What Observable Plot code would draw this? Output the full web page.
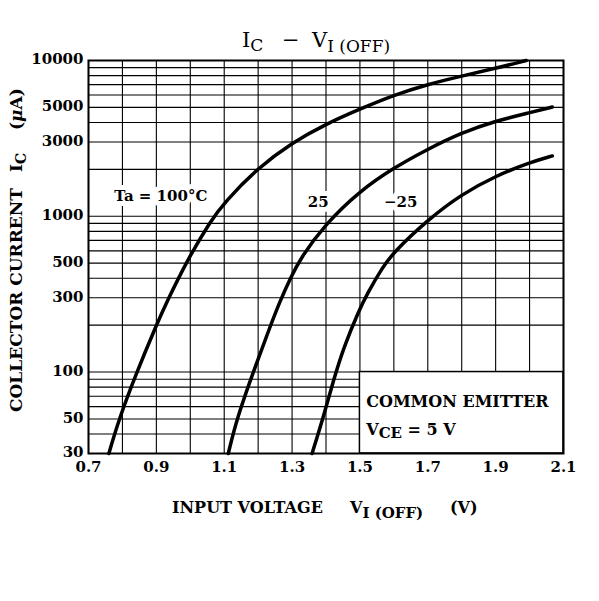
<!DOCTYPE html>
<html>
<head>
<meta charset="utf-8">
<script src="https://cdn.jsdelivr.net/npm/d3@7"></script>
<script src="https://cdn.jsdelivr.net/npm/@observablehq/plot@0.6"></script>
<style>
  body { margin: 0; background: #fff; }
  svg text { white-space: pre; }
</style>
</head>
<body>
<div id="chart"></div>
<script>
// Ta = 100°C
const v100 = [0.76, 0.79, 0.84, 0.90, 0.93, 0.99, 1.06, 1.10, 1.20, 1.30, 1.40, 1.50, 1.60, 1.70, 1.80, 1.90, 1.99]
const ic100 = [30, 50, 97, 200, 280, 518, 935, 1224, 2052, 2970, 3912, 4882, 6000, 7032, 7950, 8905, 10000]
// Ta = 25°C
const v25 = [1.112, 1.138, 1.187, 1.236, 1.266, 1.295, 1.325, 1.398, 1.497, 1.60, 1.70, 1.80, 1.90, 2.00, 2.067]
const ic25 = [30, 51, 102, 198, 290, 400, 540, 890, 1440, 2050, 2700, 3440, 4090, 4626, 5028]
// Ta = -25°C
const vm25 = [1.359, 1.394, 1.423, 1.452, 1.497, 1.521, 1.566, 1.60, 1.70, 1.80, 1.90, 2.00, 2.067]
const icm25 = [30, 53, 90, 144, 248, 317, 469, 590, 950, 1386, 1816, 2212, 2440]

const xTicks = [0.7, 0.9, 1.1, 1.3, 1.5, 1.7, 1.9, 2.1]
const yTicks = [30, 50, 100, 300, 500, 1000, 3000, 5000, 10000]

const taLabels = ['Ta = 100°C', '25', '−25']
const taLabelV = [0.913, 1.377, 1.62]
const taLabelIc = [1350, 1237, 1237]

const series = [
  {ta: '100', v: v100, ic: ic100},
  {ta: '25', v: v25, ic: ic25},
  {ta: '-25', v: vm25, ic: icm25},
]
const curveData = series.flatMap(s => s.v.map((v, i) => ({ta: s.ta, v: v, ic: s.ic[i]})))
const labelData = taLabels.map((t, i) => ({text: t, v: taLabelV[i], ic: taLabelIc[i]}))

// rejilla: 0.1 V y 1..9 por decada
const xGrid = d3.range(7, 22).map(d => d / 10)
const yGrid = [
  ...d3.range(3, 10).map(d => d * 10),
  ...d3.range(1, 10).map(d => d * 100),
  ...d3.range(1, 11).map(d => d * 1000),
]

const font = 'DejaVu Serif'

const chart = Plot.plot({
  width: 599,
  height: 601,
  marginLeft: 88,
  marginRight: 36,
  marginTop: 60,
  marginBottom: 148,
  style: {fontFamily: font, fontSize: '15px', fontWeight: 'bold', color: 'black', background: 'white'},
  x: {domain: [0.7, 2.1], axis: null},
  y: {type: 'log', domain: [30, 10000], axis: null},
  marks: [
    Plot.gridX(xGrid, {stroke: 'black', strokeOpacity: 1, strokeWidth: 1.1}),
    Plot.gridY(yGrid, {stroke: 'black', strokeOpacity: 1, strokeWidth: 1.1}),
    Plot.rect([{x1: 1.5, x2: 2.1, y1: 30, y2: 100}], {
      x1: 'x1', x2: 'x2', y1: 'y1', y2: 'y2', fill: 'white', stroke: 'black', strokeWidth: 1.5
    }),
    Plot.text(labelData, {
      x: 'v', y: 'ic', text: 'text', fill: 'black', stroke: 'white', strokeWidth: 10, fontSize: 15
    }),
    Plot.line(curveData, {
      x: 'v', y: 'ic', z: 'ta', stroke: 'black', strokeWidth: 3.5, curve: 'basis'
    }),
    Plot.frame({stroke: 'black', strokeWidth: 2}),
    Plot.text(yTicks, {y: d => d, text: d => String(d), frameAnchor: 'left', dx: -5, dy: -1, textAnchor: 'end', fontSize: 15}),
    Plot.text(xTicks, {x: d => d, text: d3.format('.1f'), frameAnchor: 'bottom', dy: 18, fontSize: 15}),
  ],
})

d3.select('#chart').append(() => chart)

// textos con subindices
const svg = d3.select(chart)
const sx = chart.scale('x')
const sy = chart.scale('y')

function addText(x, y, parts, opts = {}) {
  const t = svg.append('text')
    .attr('x', x).attr('y', y)
    .attr('font-family', font)
    .attr('font-size', opts.size || 15)
    .attr('font-weight', opts.weight || 'bold')
    .attr('text-anchor', 'start')
    .attr('fill', 'black')
  if (opts.transform) t.attr('transform', opts.transform)
  parts.forEach(p => {
    const s = t.append('tspan')
      .attr('dy', p.dy || 0)
      .attr('font-size', p.size || null)
      .attr('font-style', p.italic ? 'italic' : null)
      .text(p.t)
    if (p.x != null) s.attr('x', p.x)
  })
  return t
}

// titulo
addText(242, 47, [
  {t: 'I'}, {t: 'C', dy: 4, size: 17}, {t: '−', dy: -4, x: 282}, {t: 'V', x: 312}, {t: 'I (OFF)', dy: 5, size: 17}
], {size: 21, weight: 'normal'})

// eje y (rotado, empieza abajo)
addText(0, 0, [
  {t: 'COLLECTOR CURRENT'}, {t: 'I', x: 240}, {t: 'C', dy: 4, size: 14}, {t: '(', dy: -4, x: 282}, {t: 'μ', italic: true}, {t: 'A)'}
], {size: 17, transform: 'translate(22,412) rotate(-90)'})

// eje x
addText(172, 513, [
  {t: 'INPUT VOLTAGE'}, {t: 'V', x: 350}, {t: 'I (OFF)', dy: 5, size: 15}, {t: '(V)', dy: -5, x: 450}
], {size: 16})

// recuadro
addText(sx.apply(1.52), sy.apply(59), [{t: 'COMMON EMITTER'}], {size: 16})
addText(sx.apply(1.52), sy.apply(39), [
  {t: 'V'}, {t: 'CE', dy: 3, size: 15}, {t: ' = 5 V', dy: -3}
], {size: 16})
</script>
</body>
</html>
